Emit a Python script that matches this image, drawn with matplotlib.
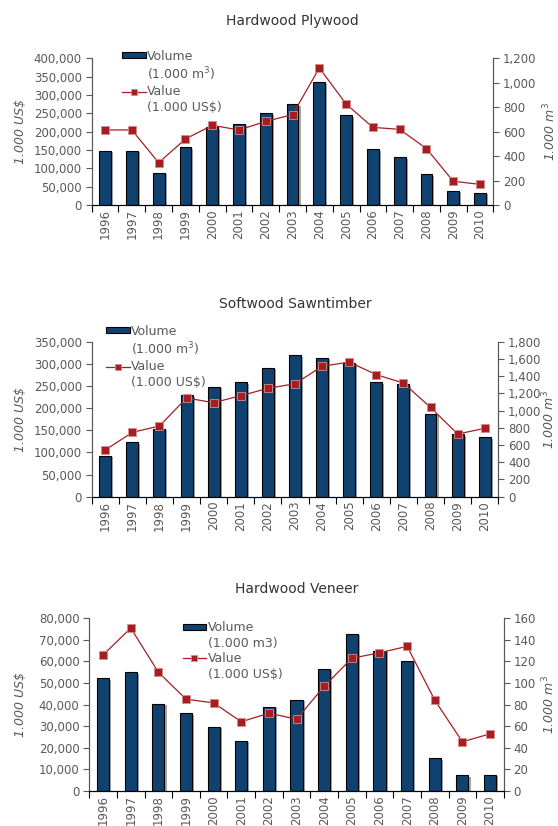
import matplotlib
matplotlib.use("Agg")
import matplotlib.pyplot as plt
import matplotlib.patheffects as pe
from matplotlib.lines import Line2D
from matplotlib.patches import Patch
from matplotlib.ticker import FuncFormatter, MultipleLocator
import numpy as np

plt.rcParams["font.family"] = ["DejaVu Sans"]

# ---------------------------------------------------------------------------
# Données
# ---------------------------------------------------------------------------
annees = ["1996", "1997", "1998", "1999", "2000", "2001", "2002", "2003",
          "2004", "2005", "2006", "2007", "2008", "2009", "2010"]

plywood_volume = [148000, 147000, 87000, 157000, 212000, 222000, 250000, 275000,
                  335000, 245000, 152000, 130000, 84000, 38000, 34000]
plywood_valeur = [614, 614, 346, 540, 652, 614, 684, 739,
                  1121, 826, 635, 619, 461, 194, 169]

sawn_volume = [92000, 123000, 153000, 229000, 248000, 258000, 291000, 319000,
               314000, 303000, 258000, 254000, 187000, 141000, 134000]
sawn_valeur = [542, 747, 821, 1146, 1092, 1173, 1258, 1312,
               1514, 1564, 1417, 1320, 1037, 728, 794]

veneer_volume = [52200, 55000, 40200, 36000, 29700, 23300, 38900, 42300,
                 56500, 72700, 65000, 60200, 15100, 7200, 7500]
veneer_valeur = [126, 151, 110, 85, 81.5, 64, 72, 66.4,
                 97, 123, 128, 134, 84, 45.4, 52.8]

panneaux = [
    # titre, volume, valeur, lim gauche, pas gauche, lim droite, pas droite, exposant
    ("Hardwood Plywood", plywood_volume, plywood_valeur, 400000, 50000, 1200, 200, True),
    ("Softwood Sawntimber", sawn_volume, sawn_valeur, 350000, 50000, 1800, 200, True),
    ("Hardwood Veneer", veneer_volume, veneer_valeur, 80000, 10000, 160, 20, False),
]

# positions des axes en fraction de figure
positions = [
    [0.1643, 0.7518, 0.7200, 0.1776],
    [0.1643, 0.3987, 0.7287, 0.1876],
    [0.1600, 0.0427, 0.7430, 0.2087],
]
legende_pos = [(0.06, 1.10), (0.02, 1.15), (0.21, 1.02)]
label_gauche_x = [-0.161, -0.159, -0.150]
label_droit_x = [1.119, 1.105, 1.089]

BLEU = "#10426F"
ROUGE = "#A61E22"
GRIS = "#595959"
FS = 8.5

fig = plt.figure(figsize=(5.58, 8.26), dpi=100)
milliers = FuncFormatter(lambda v, p: f"{int(v):,}")

for (titre, vol, val, lmax, lpas, rmax, rpas, expo), pos, lpos, gx, dx in zip(
        panneaux, positions, legende_pos, label_gauche_x, label_droit_x):
    ax = fig.add_axes(pos)
    ax2 = ax.twinx()
    x = np.arange(len(annees))

    ax.bar(x, vol, width=0.44, color=BLEU, edgecolor="black", linewidth=0.8, zorder=2,
           path_effects=[pe.SimplePatchShadow(offset=(1.5, -1), shadow_rgbFace="0.65", alpha=1),
                         pe.Normal()])
    ax2.plot(x, val, color=ROUGE, linewidth=0.9, marker="s", markersize=6,
             markerfacecolor=ROUGE, markeredgecolor="#D98A8A", markeredgewidth=0.6, zorder=3)

    ax.set_xlim(-0.5, len(annees) - 0.5)
    ax.set_ylim(0, lmax)
    ax2.set_ylim(0, rmax)
    ax.yaxis.set_major_locator(MultipleLocator(lpas))
    ax2.yaxis.set_major_locator(MultipleLocator(rpas))
    ax.yaxis.set_major_formatter(milliers)
    ax2.yaxis.set_major_formatter(milliers)

    ax.set_xticks(x)
    ax.set_xticklabels(annees, rotation=90, fontsize=FS, color=GRIS)
    ax.set_xticks(np.arange(-0.5, len(annees)), minor=True)
    ax.tick_params(axis="x", which="major", length=0, pad=3)
    ax.tick_params(axis="x", which="minor", length=5, color="black", width=0.8)
    ax.tick_params(axis="y", labelsize=FS, labelcolor=GRIS, color=GRIS, length=4, pad=3)
    ax2.tick_params(axis="y", labelsize=FS, labelcolor=GRIS, color=GRIS, length=4, pad=3)

    for a in (ax, ax2):
        a.spines["top"].set_visible(False)
        a.spines["left"].set_color(GRIS)
        a.spines["right"].set_color(GRIS)
        a.spines["bottom"].set_color("black")

    ax.set_title(titre, fontsize=10, color="#333333", pad=24 if expo else 18)
    ax.set_ylabel("1.000 US$", fontsize=9, color=GRIS, style="italic")
    ax.yaxis.set_label_coords(gx, 0.5)
    ax2.set_ylabel("1.000 m$^{3}$", fontsize=9, color=GRIS, style="italic", rotation=90)
    ax2.yaxis.set_label_coords(dx, 0.5)

    # légende : poignée alignée sur la première ligne de chaque entrée
    m3 = "(1.000 m$^3$)" if expo else "(1.000 m3)"
    vide = Patch(facecolor="none", edgecolor="none")
    poignees = [
        Patch(facecolor=BLEU, edgecolor="black", linewidth=0.8),
        vide,
        Line2D([], [], color=ROUGE, linewidth=0.9, marker="s", markersize=5,
               markeredgecolor="#D98A8A", markeredgewidth=0.6),
        vide,
    ]
    ax2.legend(poignees, ["Volume", m3, "Value", "(1.000 US$)"], loc="upper left",
               bbox_to_anchor=lpos, frameon=False, fontsize=9, handlelength=1.9,
               handleheight=0.35, handletextpad=0.1, labelspacing=0.2, borderpad=0,
               labelcolor=GRIS)

fig.savefig("out.png", dpi=100)
